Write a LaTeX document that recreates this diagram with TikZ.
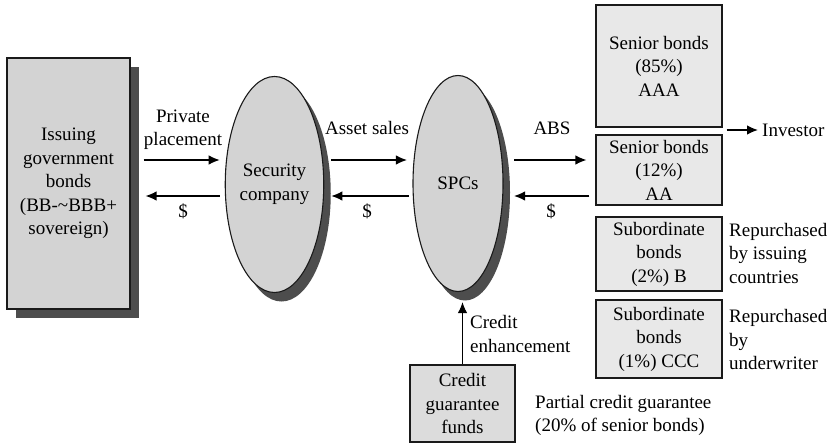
\documentclass[tikz,border=0pt]{standalone}
\usepackage{fontspec}
\setmainfont{Liberation Serif}
\usetikzlibrary{arrows.meta, shapes.geometric, shadows, positioning}
\definecolor{absgray}{HTML}{D3D3D3}
\definecolor{abslight}{HTML}{E8E8E8}
\definecolor{absshadow}{HTML}{4D4D4D}
\definecolor{absline}{HTML}{1A1A1A}
\newcommand{\ABSFont}{\fontsize{19}{23.5}\selectfont}
\tikzset{
  abs shadow/.style={
    drop shadow={shadow xshift=#1, shadow yshift=-9pt, fill=absshadow, opacity=1}
  },
  abs box/.style={
    draw=absline,
    line width=1.1pt,
    inner sep=0pt,
    align=center,
    font=\ABSFont
  },
  abs gov box/.style={abs box, fill=absgray, abs shadow=9pt,
    minimum width=123pt, minimum height=251pt},
  abs bond box/.style={abs box, fill=abslight,
    minimum width=126pt},
  abs oval/.style={abs box, ellipse, fill=absgray, abs shadow=7pt,
    minimum width=90pt, minimum height=216pt},
  abs arrow/.style={
    -{Latex[length=11pt,width=9.5pt]},
    line width=1.2pt,
    draw=black
  },
  abs label/.style={
    font=\ABSFont,
    inner sep=0pt,
    align=center
  },
  abs note/.style={abs label, align=left, anchor=west}
}

\begin{document}
\begin{tikzpicture}[x=1pt,y=-1pt]
\useasboundingbox (0,0) rectangle (837,446);

\coordinate (out row) at (0,160);
\coordinate (back row) at (0,196);

\node[abs gov box] (gov) at (68.5,183.5)
  {Issuing\\government\\bonds\\(BB-\textasciitilde BBB+\\sovereign)};
\node[abs oval] (sec) at (274.5,184.5) {Security\\company};
\node[abs oval] (spc) at (458,183.5) {SPCs};

\node[abs bond box, minimum height=122pt] (seniorA) at (659,66)
  {Senior bonds\\(85\%)\\AAA};
\node[abs bond box, minimum height=70pt] (seniorB) at (659,170)
  {Senior bonds\\(12\%)\\AA};
\node[abs bond box, minimum height=74pt] (subB) at (659,254)
  {Subordinate\\bonds\\(2\%) B};
\node[abs bond box, minimum height=78pt] (subC) at (659,339)
  {Subordinate\\bonds\\(1\%) CCC};
\node[abs bond box, fill=abslight!95!black, minimum width=105pt,
  minimum height=77pt] (credit) at (462.5,403.5)
  {Credit\\guarantee\\funds};

% labels
\node[abs label] (placement) at (183,129.5) {Private\\placement};
\node[abs label] (pay1) at (183,211) {\$};
\node[abs label] (sales) at (367,128) {Asset sales};
\node[abs label] (pay2) at (367,211) {\$};
\node[abs label] (abs) at (552,128) {ABS};
\node[abs label] (pay3) at (551,211) {\$};
\node[abs note] (investor) at (762,130) {Investor};
\node[abs note] (issuers) at (729,253.5) {Repurchased\\by issuing\\countries};
\node[abs note] (underwriter) at (729,339.5) {Repurchased\\by\\underwriter};
\node[abs note] (enhance) at (470,334) {Credit\\enhancement};
\node[abs note] (partial) at (535,415.5)
  {Partial credit guarantee\\(20\% of senior bonds)};

% flows
\draw[abs arrow] ([xshift=13pt]gov.east |- out row) -- ([xshift=-5pt]sec.west |- out row);
\draw[abs arrow] ([xshift=-5pt]sec.west |- back row) -- ([xshift=15pt]gov.east |- back row);
\draw[abs arrow] ([xshift=7pt]sec.east |- out row) -- ([xshift=-5.5pt]spc.west |- out row);
\draw[abs arrow] ([xshift=-3.5pt]spc.west |- back row) -- ([xshift=7pt]sec.east |- back row);
\draw[abs arrow] ([xshift=10.5pt]spc.east |- out row) -- ([xshift=-9pt]seniorB.west |- out row);
\draw[abs arrow] ([xshift=-6pt]seniorB.west |- back row) -- ([xshift=10.5pt]spc.east |- back row);
\draw[abs arrow] ([xshift=4pt]seniorA.east |- investor.west) -- ([xshift=-4pt]investor.west);
\draw[abs arrow] (credit.north) -- ([yshift=-10pt]credit.north |- spc.south);
\end{tikzpicture}
\end{document}
